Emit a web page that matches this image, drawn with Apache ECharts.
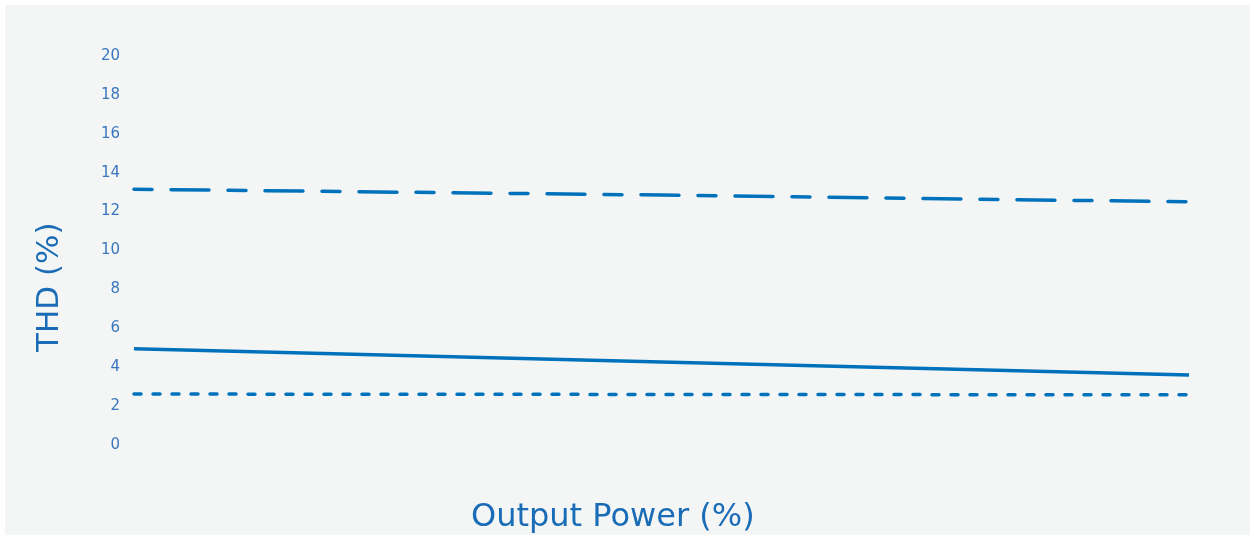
<!DOCTYPE html>
<html>
<head>
<meta charset="utf-8">
<script src="https://cdn.jsdelivr.net/npm/echarts@6/dist/echarts.min.js"></script>
<style>
  html, body { margin: 0; padding: 0; background: #ffffff; }
  #main { position: absolute; left: 5px; top: 5px; width: 1245px; height: 530px; background: #f4f6f6; }
</style>
</head>
<body>
<div id="main"></div>
<script>
// output power (%) positions and THD values
var power = [0, 50, 100];
var thdDashed = [13.15, 12.85, 12.5];
var thdSolid = [4.95, 4.27, 3.6];
var thdDotted = [2.62, 2.6, 2.58];
var yTicks = [0, 2, 4, 6, 8, 10, 12, 14, 16, 18, 20];

function pairs(ys) {
  return power.map(function (x, i) { return [x, ys[i]]; });
}

var blue = '#0072bc';
var nameColor = '#1a6cb6';
var chart = echarts.init(document.getElementById('main'));
chart.setOption({
  animation: false,
  grid: { left: 129, right: 61, top: 51, bottom: 90, outerBoundsMode: 'none' },
  graphic: [
    {
      type: 'text', left: 466, top: 497,
      style: { text: 'Output Power (%)', fill: nameColor, font: '32px "DejaVu Sans"' }
    },
    {
      type: 'text', x: 29, y: 347, rotation: Math.PI / 2,
      style: { text: 'THD (%)', fill: nameColor, font: '31px "DejaVu Sans"' }
    }
  ],
  xAxis: {
    type: 'value',
    min: 0,
    max: 100,
    axisLine: { show: false },
    axisTick: { show: false },
    axisLabel: { show: false },
    splitLine: { show: false }
  },
  yAxis: {
    type: 'value',
    min: yTicks[0],
    max: yTicks[yTicks.length - 1],
    interval: 2,
    axisLine: { show: false },
    axisTick: { show: false },
    splitLine: { show: false },
    axisLabel: { color: '#3a76bd', fontSize: 15, fontFamily: 'DejaVu Sans', margin: 14, padding: [3, 0, 0, 0] }
  },
  series: [
    {
      type: 'line', data: pairs(thdDashed), symbol: 'none',
      lineStyle: { color: blue, width: 3.5, type: [18, 19, 38, 19], cap: 'round' }
    },
    {
      type: 'line', data: pairs(thdSolid), symbol: 'none',
      lineStyle: { color: blue, width: 3.5, type: 'solid' }
    },
    {
      type: 'line', data: pairs(thdDotted), symbol: 'none',
      lineStyle: { color: blue, width: 3.5, type: [7, 12], cap: 'round' }
    }
  ]
});
</script>
</body>
</html>
